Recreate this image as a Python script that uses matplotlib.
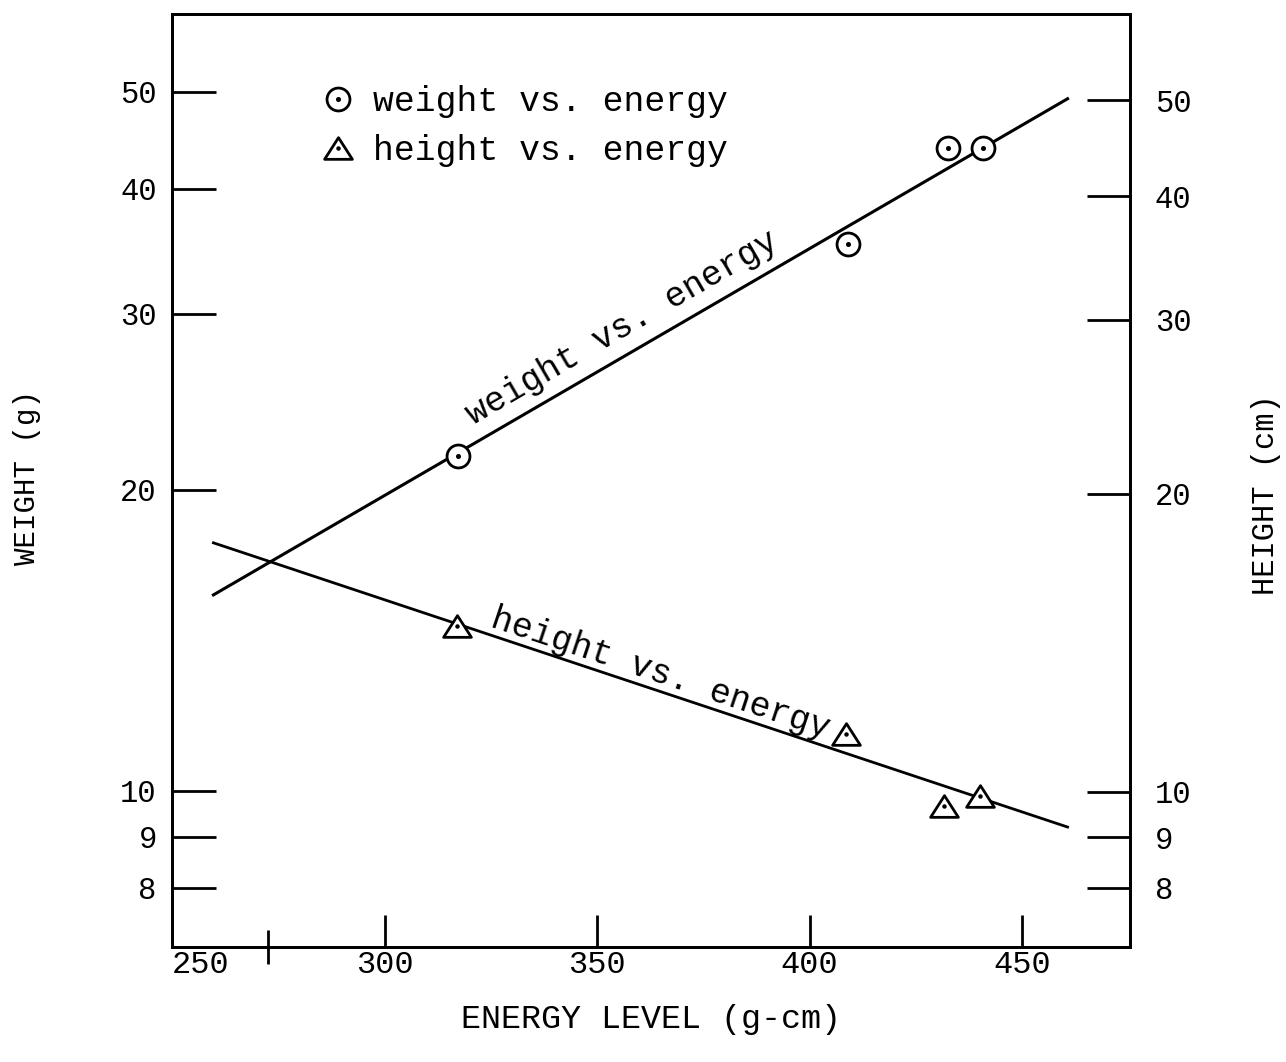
import numpy as np
import matplotlib.pyplot as plt
from matplotlib.path import Path
from matplotlib.ticker import NullLocator, NullFormatter

plt.rcParams['font.family'] = ['Liberation Mono', 'DejaVu Sans Mono']

# measured points
energy_w = [317.1, 409.0, 432.5, 440.8]
weight = [21.6, 35.2, 43.9, 43.9]
energy_h = [316.9, 408.5, 431.7, 440.1]
height = [14.6, 11.4, 9.66, 9.88]

# fitted lines (end points)
fit_energy = [259.6, 460.7]
weight_fit = [15.7, 49.2]
height_fit = [17.7, 9.2]

x_ticks = [300, 350, 400, 450]
y_ticks = [8, 9, 10, 20, 30, 40, 50]

fig = plt.figure(figsize=(12.86, 10.62), dpi=100)
ax = fig.add_axes([172 / 1286, 1 - 947 / 1062, 958 / 1286, 933 / 1062])
ax.set_xlim(249.85, 475.4)
ax.set_yscale('log')
ax.set_ylim(6.98, 59.8)

# fitted lines
ax.plot(fit_energy, weight_fit, color='black', lw=2.2, zorder=2)
ax.plot(fit_energy, height_fit, color='black', lw=2.0, zorder=2)

tri = Path([(-1, -0.78), (1, -0.78), (0, 0.78), (-1, -0.78)], closed=True)
circ, = ax.plot(energy_w, weight, ls='none', marker='o', ms=16.5, mfc='white',
                mec='black', mew=2.0, zorder=3)
cdot, = ax.plot(energy_w, weight, ls='none', marker='o', ms=2.6, color='black', zorder=4)
trin, = ax.plot(energy_h, height, ls='none', marker=tri, ms=20, mfc='white',
                mec='black', mew=2.0, zorder=3)
tdot, = ax.plot(energy_h, height, ls='none', marker='o', ms=2.2, color='black', zorder=4)

ax.legend([(circ, cdot), (trin, tdot)], ['weight vs. energy', 'height vs. energy'],
          loc='upper left', bbox_to_anchor=(0.1548, 0.924), frameon=False,
          fontsize=25, handlelength=1.0, handletextpad=0.52, borderpad=0,
          borderaxespad=0, labelspacing=0.47, numpoints=1)


# labels written along the lines
def line_label(text, ys, e0, dist):
    p = ax.transData.transform(np.column_stack([fit_energy, ys]))
    a = np.arctan2(p[1, 1] - p[0, 1], p[1, 0] - p[0, 0])
    y0 = 10 ** np.interp(e0, fit_energy, np.log10(ys))
    ax.annotate(text, xy=(e0, y0), xytext=(-np.sin(a) * dist, np.cos(a) * dist),
                textcoords='offset points', rotation=np.degrees(a),
                rotation_mode='anchor', ha='left', va='baseline', fontsize=25)


line_label('weight vs. energy', weight_fit, 322.8, 12)
line_label('height vs. energy', height_fit, 324.0, 5.3)

# axes, ticks
ax.set_xticks(x_ticks, labels=[str(v) for v in x_ticks])
ax.set_xticks([272.4], minor=True)
ax.set_yticks(y_ticks, labels=[str(v) for v in y_ticks])
ax.yaxis.set_minor_locator(NullLocator())
ax.yaxis.set_minor_formatter(NullFormatter())
ax.tick_params(axis='x', which='major', direction='in', length=23, width=2,
               pad=2, labelsize=23, top=False)
ax.tick_params(axis='x', which='minor', direction='inout', length=24, width=2, top=False)
ax.tick_params(axis='y', which='major', direction='in', length=32, width=2,
               pad=11, labelsize=22, right=False)
ax.annotate('250', xy=(249.85, 0), xycoords=ax.get_xaxis_transform(),
            xytext=(0, -2), textcoords='offset points', ha='left', va='top', fontsize=23)

ax2 = ax.twinx()
ax2.set_yscale('log')
ax2.set_ylim(6.97, 61.1)
ax2.set_yticks(y_ticks, labels=[str(v) for v in y_ticks])
ax2.yaxis.set_minor_locator(NullLocator())
ax2.yaxis.set_minor_formatter(NullFormatter())
ax2.tick_params(axis='y', which='major', direction='in', length=31, width=2,
                pad=18, labelsize=22)

for a_ in (ax, ax2):
    for s in a_.spines.values():
        s.set_linewidth(2.0)

ax.set_xlabel('ENERGY LEVEL (g-cm)', fontsize=24)
ax.xaxis.set_label_coords(0.5, -0.078)
ax.xaxis.label.set_va('center')
ax.set_ylabel('WEIGHT (g)', fontsize=21)
ax.yaxis.set_label_coords(-0.1514, 0.5027)
ax.yaxis.label.set_va('center')
ax2.set_ylabel('HEIGHT (cm)', fontsize=22, rotation=90)
ax2.yaxis.set_label_coords(1.142, 0.4845)
ax2.yaxis.label.set_va('center')

fig.savefig('out.png', dpi=100)
